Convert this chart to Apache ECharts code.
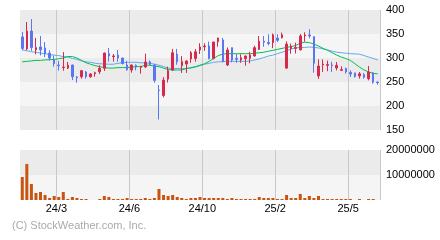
<!DOCTYPE html>
<html>
<head>
<meta charset="utf-8">
<script src="https://cdn.jsdelivr.net/npm/echarts@6/dist/echarts.min.js"></script>
<style>
html,body{margin:0;padding:0;background:#fff;}
#c{width:440px;height:240px;}
</style>
</head>
<body>
<div id="c"></div>
<script>
// Weekly candles (week starting Monday)
const categories = [
'24/01/08','24/01/15','24/01/22','24/01/29','24/02/05','24/02/12','24/02/19','24/02/26',
'24/03/04','24/03/11','24/03/18','24/03/25','24/04/01','24/04/08','24/04/15','24/04/22','24/04/29',
'24/05/06','24/05/13','24/05/20','24/05/27','24/06/03','24/06/10','24/06/17','24/06/24',
'24/07/01','24/07/08','24/07/15','24/07/22','24/07/29','24/08/05','24/08/12','24/08/19','24/08/26',
'24/09/02','24/09/09','24/09/16','24/09/23','24/09/30','24/10/07','24/10/14','24/10/21','24/10/28',
'24/11/04','24/11/11','24/11/18','24/11/25','24/12/02','24/12/09','24/12/16','24/12/23','24/12/30',
'25/01/06','25/01/13','25/01/20','25/01/27','25/02/03','25/02/10','25/02/17','25/02/24',
'25/03/03','25/03/10','25/03/17','25/03/24','25/03/31','25/04/07','25/04/14','25/04/21','25/04/28',
'25/05/05','25/05/12','25/05/19','25/05/26','25/06/02','25/06/09','25/06/16','25/06/23','25/06/30','25/07/07'
];
const openP = [344,319,356,317,323,321,310,296,285.4,280,279,285.4,260.4,261,270.8,261,267.4,271.5,278.5,309,
302.8,306.3,300,285.4,275,284.7,280.5,281.3,291.7,284.7,233.3,222,256,275,308,284,287.5,298,299,316.7,
323.6,325,299.3,334,337.5,285.4,321.5,299.3,295.8,298.6,299.3,304.2,318,335,332.5,332,341.5,342,279,319.4,
320,317,346,348,344.4,262.5,285.5,284.7,285.4,279.2,274.3,278,270,269,262.5,265.5,257,269,250];
const closeP = [320,356,322,321.5,317,309,300,288,284,281.3,285,261,259,273.6,261,266.7,269.4,278.5,310.4,304.2,
304.2,300,288.2,275.5,285.4,281.3,282.6,291.7,286.8,253.5,232.5,254,273.6,311,292,292.4,293.75,311,313,323,
325,298.6,333.3,341.7,292.4,316.7,295.8,297.2,300.7,304.2,306.3,321.5,335,333,330,348.3,337,348.3,329,324.3,
322,346,348,346,289,283.3,287.5,286.5,284,284.7,275.7,271,266.5,261.5,267,260,270.8,249.5,248.6];
const lowP = [316,316,315,307.5,305.5,302,294.5,282,273.6,273.6,277,254,248.5,257,257,259,261,266.7,273,292.4,
292.4,292.4,287,273.6,269.4,274.3,267.4,279.2,284.7,248.6,172,218,249,273,286,269,269,290,292.4,308.3,
315,297.2,297,323.6,291,283.3,291,290,290,284,289,302.8,316.5,323.5,326.5,320.5,333.3,341,277.5,309,
309.5,315.5,334,341,269.4,256.5,271,272.5,271,274.3,272.9,267.4,260.4,259,257,257,253.5,246.5,244.5];
const highP = [354,375,381,342,346,333,316,305,294,312.5,291.7,286,262.5,275,273,268,271.5,284.7,311,320.8,
308.3,316.7,300.5,294,286.5,286.8,283.5,309,295,288.2,243.75,260,282,319,319,304,295,314.6,318.75,330.6,
330.6,334,334,342,341.7,322,321.5,308.3,307.6,305,313,325.6,345.8,345.8,349.5,351,349.5,353,334.5,330,
332,350,353.5,360,345,297.2,297,294.5,292,291.7,282.6,280,274.3,269.4,270.8,268.8,283.3,270.8,251];
const volume = [9200000,14400000,6400000,2800000,3200000,2000000,800000,1600000,1200000,3200000,
400000,1200000,800000,400000,400000,0,0,400000,1600000,1200000,
400000,400000,400000,800000,400000,400000,400000,800000,400000,800000,
4400000,2000000,1600000,2000000,1200000,800000,400000,800000,800000,1200000,
800000,800000,800000,800000,800000,400000,800000,400000,400000,400000,
400000,400000,1200000,800000,800000,800000,400000,400000,2000000,800000,
800000,2400000,800000,1600000,800000,1600000,400000,400000,400000,400000,
400000,400000,400000,0,400000,0,400000,400000,0];
const ma13 = [292,293,294,295,295,296,296.5,297,298.5,300,
303,303,300,295,290,287,284,282,280,279,
279,280,280,280,281,282,282,285,285,283,
282,279,276,275,275,275,278,280,282,285,
288,293,299,305,308,309,309,309,309,309,
309,310,311,312,314,316,318,320,322,324,
326,331,333,332,329,325,320,316,311,306,
302,299,295,288,281,275,271,268,267];
const ma26 = [317,315,313,312,310,309,307,306,305,303,
302,299,297,294,292,291,289,288,287.5,287,
287,289,290,291,291,291,290,290,289,287,
285,282,279,278,278,278,278,279,281,284,
287,289,291,292,292.5,293,293,293,293,293,
294,296,298,301,304,306,309,312,315,319,
321,322,322,323,322,321,319,317,314,312,
311,310,309,308.5,308,305,302,299,296];
const tickWeeks = ['24/03/04','24/06/24','24/10/14','25/02/03','25/05/26'];
const tickLabels = ['24/3','24/6','24/10','25/2','25/5'];
const priceAxis = {min:150, max:400, step:50};
const volumeAxis = {min:0, max:20000000, step:10000000};

const FONT = 'Liberation Sans, Arial, sans-serif';
const isTick = (i, v) => tickWeeks.indexOf(v !== undefined ? v : categories[i]) >= 0;
const candleData = categories.map((c, i) => [openP[i], closeP[i], lowP[i], highP[i]]);

const chart = echarts.init(document.getElementById('c'), null, {renderer:'canvas'});
chart.setOption({
  animation:false,
  backgroundColor:'#ffffff',
  textStyle:{fontFamily:FONT},
  grid:[
    {left:20, top:10, width:360, height:120},
    {left:20, top:150, width:360, height:50}
  ],
  xAxis:[
    {type:'category', gridIndex:0, data:categories, boundaryGap:true,
     axisLine:{show:false}, axisTick:{show:false}, axisLabel:{show:false},
     splitLine:{show:true, interval:(i, v) => isTick(i, v), lineStyle:{color:'#c8c8c8', width:1}}},
    {type:'category', gridIndex:1, data:categories, boundaryGap:true,
     axisLine:{show:false}, axisTick:{show:false},
     axisLabel:{show:true, interval:(i, v) => isTick(i, v), color:'#000', fontSize:11, fontFamily:FONT, margin:3,
       padding:[0, 4.56, 0, 0],
       formatter:(v) => tickLabels[tickWeeks.indexOf(v)] || ''},
     splitLine:{show:true, interval:(i, v) => isTick(i, v), lineStyle:{color:'#c8c8c8', width:1}}}
  ],
  yAxis:[
    {type:'value', gridIndex:0, position:'right', min:priceAxis.min, max:priceAxis.max, interval:priceAxis.step,
     axisLine:{show:false}, axisTick:{show:false}, splitLine:{show:false},
     splitArea:{show:true, areaStyle:{color:['#ebebeb','#f5f5f5']}},
     axisLabel:{color:'#000', fontSize:11, fontFamily:FONT, margin:6}},
    {type:'value', gridIndex:1, position:'right', min:volumeAxis.min, max:volumeAxis.max, interval:volumeAxis.step,
     axisLine:{show:false}, axisTick:{show:false}, splitLine:{show:false},
     splitArea:{show:true, areaStyle:{color:['#f5f5f5','#ebebeb']}},
     axisLabel:{color:'#000', fontSize:11, fontFamily:FONT, margin:6, formatter:(v) => v === 0 ? '' : String(v)}}
  ],
  series:[
    {type:'line', xAxisIndex:0, yAxisIndex:0, data:ma26, symbol:'none', smooth:false,
     lineStyle:{color:'#64a8f0', width:1}, z:2},
    {type:'line', xAxisIndex:0, yAxisIndex:0, data:ma13, symbol:'none', smooth:false,
     lineStyle:{color:'#00c050', width:1}, z:2},
    {type:'candlestick', xAxisIndex:0, yAxisIndex:0, data:candleData, barWidth:2, z:3,
     itemStyle:{color:'#d6294d', color0:'#5a76f2', borderColor:'#d6294d', borderColor0:'#5a76f2', borderWidth:1}},
    {type:'bar', xAxisIndex:1, yAxisIndex:1, data:volume, barWidth:3,
     itemStyle:{color:'#c8540f'}}
  ],
  graphic:[
    {type:'text', left:12, top:220, style:{text:'(C) StockWeather.com, Inc.', fill:'#aaaaaa', font:'11px ' + FONT}}
  ]
});
</script>
</body>
</html>
